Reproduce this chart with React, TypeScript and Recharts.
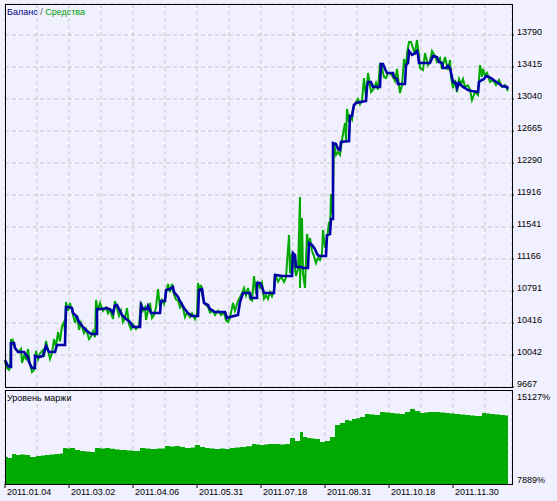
import { Area, CartesianGrid, ComposedChart, Line, XAxis, YAxis } from "recharts";

const dateTicks = [0, 64, 128, 192, 256, 320, 384, 448];
const dateLabels = ["2011.01.04", "2011.03.02", "2011.04.06", "2011.05.31", "2011.07.18", "2011.08.31", "2011.10.18", "2011.11.30"];
const gridTicks = [32, 64, 96, 128, 160, 192, 224, 256, 288, 320, 352, 384, 416, 448, 480];
const balanceTicks = [9667, 10042, 10416, 10791, 11166, 11541, 11916, 12290, 12665, 13040, 13415, 13790];
const marginTicks = [7889, 15127];

// [deal index, balance]
const balance: [number, number][] = [
  [0, 9983], [3, 9913], [5, 9901], [6, 9901], [6, 10182], [9, 10182], [10, 10124], [13, 10077], [19, 10077], [21, 10042],
  [23, 10018], [24, 9960], [27, 9890], [30, 9890], [30, 10030], [34, 10018], [38, 10030], [41, 10147], [44, 10077], [50, 10077],
  [52, 10159], [60, 10159], [61, 10604], [63, 10604], [67, 10592], [68, 10534], [72, 10487], [74, 10428], [78, 10370], [82, 10323],
  [86, 10288], [92, 10288], [92, 10581], [97, 10581], [102, 10592], [106, 10569], [108, 10534], [110, 10627], [112, 10627], [114, 10581],
  [117, 10510], [120, 10475], [125, 10428], [128, 10370], [135, 10370], [136, 10627], [138, 10581], [142, 10581], [143, 10616], [146, 10534],
  [155, 10534], [156, 10674], [160, 10674], [161, 10803], [165, 10815], [168, 10838], [169, 10780], [173, 10721], [176, 10651], [179, 10592],
  [183, 10534], [187, 10499], [193, 10499], [194, 10803], [197, 10815], [199, 10651], [203, 10627], [205, 10581], [210, 10545], [220, 10545],
  [222, 10475], [225, 10487], [233, 10510], [235, 10663], [238, 10768], [245, 10768], [246, 10709], [252, 10709], [252, 10885], [255, 10885],
  [257, 10838], [259, 10768], [269, 10768], [270, 10979], [278, 10967], [287, 10967], [288, 11236], [290, 11213], [291, 11072], [296, 11072],
  [298, 11061], [303, 11061], [304, 11354], [307, 11330], [310, 11283], [312, 11225], [314, 11201], [321, 11201], [322, 11447], [325, 11459],
  [326, 11635], [328, 11635], [328, 12525], [331, 12513], [333, 12455], [335, 12443], [336, 12537], [344, 12548], [345, 12841], [347, 12841],
  [349, 12970], [351, 12993], [361, 13017], [362, 13181], [363, 13239], [366, 13239], [368, 13181], [375, 13181], [376, 13450], [378, 13450],
  [380, 13392], [382, 13345], [388, 13345], [389, 13298], [392, 13275], [393, 13216], [400, 13216], [401, 13438], [403, 13462], [404, 13602],
  [407, 13556], [409, 13567], [412, 13602], [413, 13556], [414, 13462], [425, 13462], [428, 13544], [432, 13532], [434, 13474], [437, 13462],
  [438, 13403], [441, 13403], [443, 13427], [445, 13403], [448, 13239], [451, 13228], [452, 13169], [454, 13228], [458, 13181], [460, 13169],
  [463, 13146], [467, 13134], [473, 13122], [474, 13239], [477, 13263], [479, 13275], [481, 13310], [484, 13298], [487, 13275], [490, 13251],
  [493, 13228], [497, 13193], [502, 13181], [503, 13158],
];

// [deal index, equity]
const equity: [number, number][] = [
  [0, 9960], [2, 9890], [4, 9866], [5, 9900], [6, 10229], [7, 10160], [8, 10206], [10, 10124], [12, 10100], [14, 10077],
  [16, 10112], [17, 9948], [19, 10030], [21, 9995], [23, 10112], [25, 9930], [27, 9843], [29, 9866], [31, 10089], [33, 9990],
  [35, 10060], [38, 10100], [39, 10020], [41, 10206], [43, 10100], [45, 9995], [47, 10060], [49, 10229], [51, 10140], [53, 10311],
  [55, 10200], [57, 10380], [59, 10428], [60, 10300], [61, 10663], [63, 10560], [65, 10651], [67, 10560], [70, 10420], [72, 10510],
  [74, 10335], [76, 10420], [79, 10300], [81, 10346], [84, 10229], [86, 10260], [88, 10320], [90, 10250], [91, 10686], [93, 10560],
  [95, 10651], [98, 10560], [101, 10600], [103, 10530], [105, 10569], [108, 10463], [110, 10674], [112, 10590], [114, 10500], [116, 10560],
  [118, 10428], [120, 10470], [122, 10592], [124, 10400], [126, 10346], [128, 10400], [131, 10346], [134, 10390], [136, 10663], [138, 10560],
  [140, 10600], [141, 10452], [143, 10560], [145, 10651], [147, 10475], [149, 10510], [151, 10600], [153, 10815], [155, 10600], [157, 10686],
  [159, 10640], [161, 10760], [163, 10873], [165, 10780], [167, 10873], [169, 10750], [171, 10690], [173, 10686], [175, 10600], [177, 10640],
  [180, 10487], [182, 10540], [185, 10487], [187, 10530], [190, 10463], [192, 10520], [193, 10885], [195, 10780], [196, 10862], [198, 10700],
  [200, 10640], [203, 10604], [205, 10540], [208, 10560], [210, 10510], [213, 10560], [216, 10510], [219, 10540], [221, 10450], [223, 10428],
  [225, 10480], [228, 10651], [230, 10560], [233, 10674], [235, 10720], [237, 10768], [239, 10827], [241, 10740], [243, 10827], [245, 10698],
  [247, 10680], [249, 10967], [251, 10760], [253, 10885], [255, 10830], [257, 10885], [259, 10700], [261, 10740], [263, 10698], [265, 10780],
  [267, 10730], [269, 10800], [270, 10991], [273, 10900], [276, 10960], [279, 10897], [281, 10950], [284, 11447], [285, 11000], [287, 11236],
  [289, 11120], [291, 10967], [293, 11050], [295, 11892], [295, 10827], [297, 11646], [298, 11000], [300, 10827], [302, 11459], [304, 11300],
  [305, 11412], [307, 11260], [309, 11200], [311, 11119], [313, 11180], [315, 11154], [317, 11230], [318, 11506], [320, 11300], [322, 11400],
  [324, 11600], [325, 11480], [326, 11928], [327, 11700], [328, 11928], [329, 12525], [331, 12384], [333, 12420], [335, 12384], [337, 12560],
  [338, 12630], [340, 12759], [341, 12560], [342, 12923], [344, 12771], [345, 12840], [347, 12800], [348, 12935], [350, 12982], [353, 13040],
  [355, 12980], [357, 13028], [359, 13286], [361, 13050], [363, 13345], [365, 13200], [366, 13122], [368, 13146], [371, 13228], [373, 13150],
  [375, 13462], [377, 13400], [379, 13298], [381, 13286], [383, 13345], [385, 13345], [388, 13298], [390, 13250], [392, 13392], [394, 13200],
  [395, 13110], [397, 13204], [399, 13509], [401, 13400], [402, 13579], [404, 13708], [406, 13708], [408, 13638], [410, 13560], [411, 13661],
  [412, 13731], [414, 13550], [415, 13403], [418, 13380], [420, 13579], [423, 13438], [425, 13480], [427, 13602], [430, 13544], [432, 13474],
  [435, 13520], [437, 13392], [440, 13532], [443, 13380], [445, 13497], [446, 13300], [448, 13169], [450, 13263], [452, 13122], [454, 13275],
  [456, 13216], [458, 13275], [460, 13181], [463, 13200], [465, 13146], [467, 13028], [470, 13122], [473, 13087], [475, 13438], [477, 13300],
  [478, 13392], [480, 13321], [482, 13345], [485, 13239], [488, 13263], [491, 13204], [494, 13263], [497, 13181], [500, 13204], [503, 13134],
];

// [deal index, margin level %]
const margin: [number, number][] = [
  [0, 9968], [3, 9891], [7, 10199], [11, 10122], [15, 10160], [20, 10122], [25, 9968], [31, 10045], [36, 10090], [40, 10122],
  [45, 10160], [50, 10199], [55, 10240], [58, 10661], [62, 10620], [65, 10661], [70, 10507], [75, 10430], [80, 10400], [85, 10353],
  [90, 10661], [95, 10620], [100, 10661], [105, 10600], [110, 10550], [115, 10507], [122, 10470], [128, 10430], [135, 10661], [140, 10620],
  [145, 10584], [152, 10620], [160, 10815], [165, 10780], [170, 10815], [175, 10740], [180, 10661], [186, 10700], [190, 10892], [195, 10738],
  [200, 10660], [205, 10620], [210, 10584], [215, 10620], [220, 10584], [225, 10661], [230, 10700], [235, 10738], [241, 10800], [247, 10969],
  [251, 10930], [255, 10892], [259, 10930], [263, 10969], [270, 10969], [275, 10930], [280, 10969], [285, 11431], [290, 11200], [295, 11893],
  [298, 11508], [302, 11431], [306, 11390], [310, 11354], [315, 11123], [320, 11200], [325, 11508], [330, 12432], [335, 12586], [340, 12817],
  [344, 12760], [347, 12894], [351, 12950], [355, 13048], [360, 13279], [365, 13240], [370, 13202], [375, 13433], [380, 13390], [385, 13356],
  [390, 13320], [395, 13279], [400, 13433], [405, 13664], [410, 13510], [415, 13356], [419, 13400], [423, 13433], [430, 13433], [435, 13390],
  [440, 13356], [445, 13320], [450, 13279], [455, 13240], [460, 13202], [465, 13160], [470, 13125], [477, 13356], [481, 13320], [485, 13279],
  [490, 13240], [495, 13202], [500, 13160], [503, 13125],
];

const balanceData = balance.map(([n, v]) => ({ n, v }));
const equityData = equity.map(([n, v]) => ({ n, v }));
const marginData = margin.map(([n, v]) => ({ n, v }));

const FONT = "'Liberation Sans', Arial, sans-serif";
const BG = "#F0F0FF";

function BalanceTick({ x, y, payload }: any) {
  return (
    <text x={x} y={y} fontSize={9} fontFamily={FONT} fill="#000">
      {payload.value}
    </text>
  );
}

function MarginTick({ x, y, payload }: any) {
  const top = payload.value === marginTicks[1];
  return (
    <text x={x} y={top ? y + 10 : y - 1} fontSize={9} fontFamily={FONT} fill="#000">
      {payload.value}%
    </text>
  );
}

function DateTick({ x, y, payload }: any) {
  const i = dateTicks.indexOf(payload.value);
  return (
    <text x={x + 2} y={y + 5} fontSize={9} fontFamily={FONT} fill="#000">
      {dateLabels[i]}
    </text>
  );
}

const frame = { position: "absolute" as const, border: "1px solid #000", boxSizing: "border-box" as const, pointerEvents: "none" as const };

export default function App() {
  return (
    <div style={{ position: "fixed", left: 0, top: 0, width: 557, height: 501, background: BG, overflow: "hidden" }}>
      <div style={{ position: "absolute", left: 0, top: 0 }}>
        <ComposedChart width={557} height={388} margin={{ top: 4, right: 5, bottom: 1, left: 5 }}>
          <CartesianGrid stroke="#C8C8CC" strokeDasharray="4 3" />
          <XAxis dataKey="n" type="number" domain={[0, 507]} ticks={gridTicks} hide />
          <YAxis
            orientation="right"
            width={40}
            domain={[9667, 14153]}
            ticks={balanceTicks}
            interval={0}
            axisLine={false}
            tickSize={2}
            tickMargin={3}
            tickLine={{ stroke: "#000" }}
            tick={<BalanceTick />}
          />
          <Line data={equityData} dataKey="v" stroke="#00AA00" strokeWidth={2} strokeLinejoin="miter" dot={false} isAnimationActive={false} />
          <Line data={balanceData} dataKey="v" stroke="#0000A8" strokeWidth={2.6} dot={false} isAnimationActive={false} />
        </ComposedChart>
      </div>
      <div style={{ position: "absolute", left: 0, top: 390 }}>
        <ComposedChart width={557} height={111} data={marginData} margin={{ top: 0, right: 5, bottom: 0, left: 5 }}>
          <CartesianGrid stroke="#C8C8CC" strokeDasharray="4 3" horizontal={false} xAxisId="g" />
          <XAxis xAxisId="g" dataKey="n" type="number" domain={[0, 507]} ticks={gridTicks} hide />
          <XAxis
            dataKey="n"
            type="number"
            domain={[0, 507]}
            ticks={dateTicks}
            interval={0}
            height={17}
            axisLine={false}
            tickSize={4}
            tickMargin={2}
            tickLine={{ stroke: "#000" }}
            tick={<DateTick />}
          />
          <YAxis
            orientation="right"
            width={40}
            domain={[7889, 15127]}
            ticks={marginTicks}
            interval={0}
            axisLine={false}
            tickLine={false}
            tickSize={2}
            tickMargin={3}
            tick={<MarginTick />}
          />
          <Area type="stepAfter" dataKey="v" stroke="none" fill="#00AA00" fillOpacity={1} isAnimationActive={false} />
        </ComposedChart>
      </div>
      <div style={{ ...frame, left: 5, top: 4, width: 508, height: 384 }} />
      <div style={{ ...frame, left: 5, top: 390, width: 508, height: 95 }} />
      <div style={{ position: "absolute", left: 7, top: 7, fontSize: 9, fontFamily: FONT, lineHeight: "11px", whiteSpace: "nowrap" }}>
        <span style={{ color: "#00008B" }}>Баланс</span>
        <span style={{ color: "#555" }}> / </span>
        <span style={{ color: "#00A000" }}>Средства</span>
      </div>
      <div style={{ position: "absolute", left: 7, top: 393, fontSize: 9, fontFamily: FONT, lineHeight: "11px", color: "#000", whiteSpace: "nowrap" }}>
        Уровень маржи
      </div>
    </div>
  );
}
